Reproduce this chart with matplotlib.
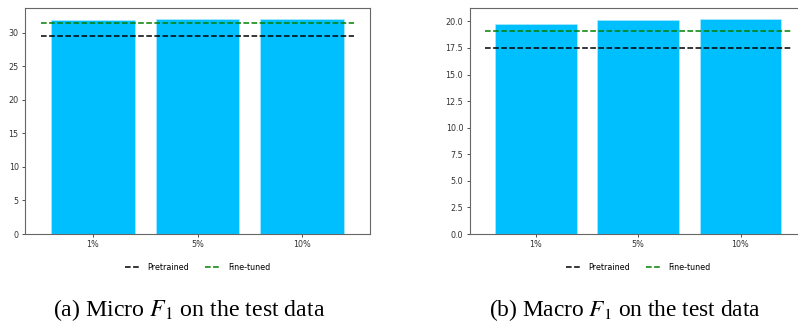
import matplotlib
matplotlib.use("Agg")
import matplotlib.pyplot as plt

categories = ["1%", "5%", "10%"]
micro_f1 = [31.9, 32.05, 32.05]
micro_pretrained = 29.55
micro_finetuned = 31.35
macro_f1 = [19.75, 20.12, 20.25]
macro_pretrained = 17.52
macro_finetuned = 19.11

plt.rcParams['mathtext.fontset'] = 'stix'

W, H = 798, 322
fig = plt.figure(figsize=(W / 100, H / 100), dpi=100)

def px_axes(x0, x1, ytop, ybot):
    return fig.add_axes([x0 / W, 1 - ybot / H, (x1 - x0) / W, (ybot - ytop) / H])

ax1 = px_axes(25, 370, 8, 234)
ax2 = px_axes(469.5, 807, 8, 234)

fs = 5.8
for ax, vals, pre, fin in [(ax1, micro_f1, micro_pretrained, micro_finetuned),
                           (ax2, macro_f1, macro_pretrained, macro_finetuned)]:
    x = list(range(len(categories)))
    ax.bar(x, vals, width=0.8, color='#00BFFF', edgecolor='#b8ecff', linewidth=0.4)
    ax.hlines(pre, -0.5, len(categories) - 0.5, colors='black', linestyles='--',
              linewidth=1.1, label='Pretrained')
    ax.hlines(fin, -0.5, len(categories) - 0.5, colors='green', linestyles='--',
              linewidth=1.1, label='Fine-tuned')
    ax.set_xticks(x)
    ax.set_xticklabels(categories)
    ax.tick_params(labelsize=fs, length=2.5, width=0.6, pad=2, colors='#333333')
    for s in ax.spines.values():
        s.set_color('#666666')
        s.set_linewidth(0.8)
    ax.legend(loc='center', bbox_to_anchor=(0.5, -0.149), ncol=2, frameon=False,
              fontsize=fs)

captions = [(r"(a) Micro $F_1$ on the test data", 189.5),
            (r"(b) Macro $F_1$ on the test data", 625)]
target_w = 273
renderer = fig.canvas.get_renderer()
for txt, cx in captions:
    t = fig.text(cx / W, 1 - 310 / H, txt, ha='center', va='center',
                 fontsize=12.5, family='Liberation Serif')
    w = t.get_window_extent(renderer).width
    t.set_fontsize(12.5 * target_w / w)

fig.savefig("out.png", dpi=100)
